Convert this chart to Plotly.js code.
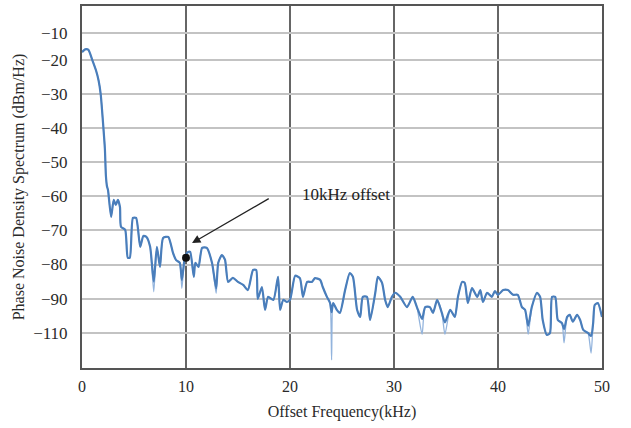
<!DOCTYPE html>
<html>
<head>
<meta charset="utf-8">
<script src="https://cdn.plot.ly/plotly-3.0.1.min.js"></script>
<style>
  html, body { margin: 0; padding: 0; background: #ffffff; }
  #chart { width: 631px; height: 428px; }
</style>
</head>
<body>
<div id="chart"></div>
<script>
// Offset frequency (kHz) of the smoothed spectrum trace
const freqKHz = [
  0, 0.3, 0.6, 1.0, 1.35, 1.6, 1.8, 2.0, 2.2, 2.3,
  2.4, 2.5, 2.8, 3.05, 3.25, 3.45, 3.65, 3.75, 4.15, 4.4,
  4.6, 4.9, 5.2, 5.6, 5.9, 6.2, 6.55, 6.9, 7.2, 7.5,
  7.8, 8.3, 8.75, 9.05, 9.4, 9.6, 9.9, 10.2, 10.4, 10.75,
  10.9, 11.2, 11.55, 12.0, 12.5, 12.9, 13.1, 13.45, 13.75, 14.05,
  14.5, 15.0, 15.5, 15.95, 16.45, 16.75, 16.9, 17.3, 17.6, 17.9,
  18.4, 18.85, 19.05, 19.35, 19.7, 20.0, 20.5, 20.95, 21.25, 21.65,
  22.1, 22.4, 22.9, 23.15, 23.55, 23.85, 24.0, 24.15, 24.5, 24.8,
  25.3, 25.75, 26.05, 26.45, 26.75, 27.0, 27.4, 27.7, 28.2, 28.45,
  28.85, 29.15, 29.4, 29.8, 30.1, 30.6, 31.25, 31.8, 32.2, 32.7,
  33.0, 33.45, 33.75, 34.15, 34.6, 34.9, 35.4, 35.85, 36.15, 36.55,
  36.8, 37.1, 37.5, 38.0, 38.3, 38.55, 38.95, 39.4, 39.7, 40.0,
  40.5, 40.95, 41.45, 41.9, 42.3, 42.6, 42.9, 43.25, 43.75, 44.05,
  44.3, 44.7, 45.0, 45.2, 45.5, 45.75, 46.15, 46.35, 46.65, 46.9,
  47.2, 47.6, 47.9, 48.2, 48.65, 48.95, 49.15, 49.3, 49.6, 50.0
];

// Phase noise density (dBm/Hz) of the smoothed trace
const psdLevel = [
  -17.6, -16.8, -16.9, -20, -23, -26, -30, -37.5, -46, -54,
  -57, -58.1, -66, -61, -62.5, -61, -63.1, -68.9, -69.8, -78,
  -78, -66.3, -66.3, -74.8, -71.6, -71.9, -74.8, -85, -74.8, -80.7,
  -72.2, -71.9, -76.6, -78.7, -79.5, -84.5, -77.8, -76.3, -76.3, -83.6,
  -79.5, -80.7, -75.1, -75.1, -79.5, -87, -79.5, -77.2, -78.6, -85.1,
  -83.9, -85.1, -86, -87.5, -81.6, -81.6, -90.1, -86.6, -93.3, -89.5,
  -90.4, -83.6, -93.3, -90.4, -91, -90.4, -83.3, -84, -89.5, -85.1,
  -85.1, -84, -84.5, -86.6, -89.5, -91.3, -94, -91.3, -93.3, -94.2,
  -87.5, -82.5, -83.6, -93.3, -95.4, -89.5, -89.5, -96.3, -88.3, -83.6,
  -85.4, -90.4, -92.5, -89.5, -88.3, -89.5, -92.5, -89.5, -92.5, -96,
  -92.5, -92.5, -94.2, -90.4, -94.2, -97, -93.3, -95.4, -89.5, -85.1,
  -85.4, -91.3, -86.9, -89.5, -87.5, -91, -88.3, -89.5, -87.8, -88.9,
  -87.5, -87.5, -88.9, -88.9, -92.5, -93.3, -98, -92.5, -88.3, -89.5,
  -96.3, -100.7, -100.1, -89.5, -89.5, -96.3, -97.2, -99, -95.4, -94.8,
  -96.8, -94.8, -96.3, -99.2, -100.1, -101, -97.2, -91.9, -91.3, -95.4
];

// Narrow dips of the raw (unsmoothed) spectrum
const dipFreq  = [6.9, 9.6, 12.9, 24.0, 32.7, 34.9, 42.9, 46.35, 48.95];
const dipLevel = [-88, -87, -88.5, -108, -100.5, -100.5, -100.5, -103, -106];

// Marked point at 10 kHz offset
const markFreq = [10];
const markLevel = [-78];

// Y tick positions and their printed labels
const yTickVals = [-11.9, -20, -30, -40, -50, -60, -70, -80, -90, -100];
const yTickText = ['\u221210', '\u221220', '\u221230', '\u221240', '\u221250',
                   '\u221260', '\u221270', '\u221280', '\u221290', '\u2212110'];
const xTickVals = [0, 10, 20, 30, 40, 50];

// Raw trace: smoothed points with the narrow dips merged in
const rawMap = new Map();
freqKHz.forEach((f, i) => rawMap.set(f, psdLevel[i]));
dipFreq.forEach((f, i) => rawMap.set(f, dipLevel[i]));
const rawFreq = Array.from(rawMap.keys()).sort((a, b) => a - b);
const rawLevel = rawFreq.map(f => rawMap.get(f));

const serif = 'Liberation Serif, Times New Roman, serif';

const traces = [
  {
    x: rawFreq, y: rawLevel, type: 'scatter', mode: 'lines',
    line: { color: '#93b4dd', width: 1.3, shape: 'spline', smoothing: 0.6 },
    hoverinfo: 'skip', showlegend: false
  },
  {
    x: freqKHz, y: psdLevel, type: 'scatter', mode: 'lines',
    line: { color: '#4a7ebb', width: 2.2, shape: 'spline', smoothing: 0.6 },
    showlegend: false
  },
  {
    x: markFreq, y: markLevel, type: 'scatter', mode: 'markers',
    marker: { color: '#111111', size: 8 },
    showlegend: false
  }
];

const layout = {
  width: 631, height: 428,
  margin: { l: 82, r: 29, t: 6, b: 60 },
  paper_bgcolor: '#ffffff', plot_bgcolor: '#ffffff',
  font: { family: serif, color: '#2a2a2a', size: 15 },
  showlegend: false,
  xaxis: {
    range: [0, 50],
    tickvals: xTickVals,
    ticks: 'outside', ticklen: 3, tickcolor: 'rgba(0,0,0,0)',
    tickfont: { family: serif, size: 16, color: '#2a2a2a' },
    showgrid: true, gridcolor: '#666666', gridwidth: 1.5,
    showline: true, linecolor: '#555555', linewidth: 2, mirror: true,
    zeroline: false,
    title: { text: 'Offset Frequency(kHz)', standoff: 12,
             font: { family: serif, size: 16, color: '#2a2a2a' } }
  },
  yaxis: {
    range: [-110.4, -4.05],
    tickvals: yTickVals, ticktext: yTickText,
    ticks: 'outside', ticklen: 9, tickcolor: 'rgba(0,0,0,0)',
    tickfont: { family: serif, size: 17, color: '#2a2a2a' },
    showgrid: true, gridcolor: '#c3c3c3', gridwidth: 2,
    showline: true, linecolor: '#555555', linewidth: 2, mirror: true,
    zeroline: false,
    title: { text: 'Phase Noise Density Spectrum (dBm/Hz)', standoff: 5,
             font: { family: serif, size: 16, color: '#2a2a2a' } }
  },
  annotations: [
    {
      x: 10.58, y: -73.7, xref: 'x', yref: 'y',
      ax: 18.1, ay: -60.4, axref: 'x', ayref: 'y',
      text: '', showarrow: true,
      arrowhead: 2, arrowsize: 1.3, arrowwidth: 1.3, arrowcolor: '#222222'
    },
    {
      x: 25.4, y: -59.3, xref: 'x', yref: 'y',
      text: '10kHz offset', showarrow: false,
      font: { family: serif, size: 17, color: '#222222' }
    }
  ]
};

Plotly.newPlot('chart', traces, layout, { staticPlot: true, displayModeBar: false });
</script>
</body>
</html>
